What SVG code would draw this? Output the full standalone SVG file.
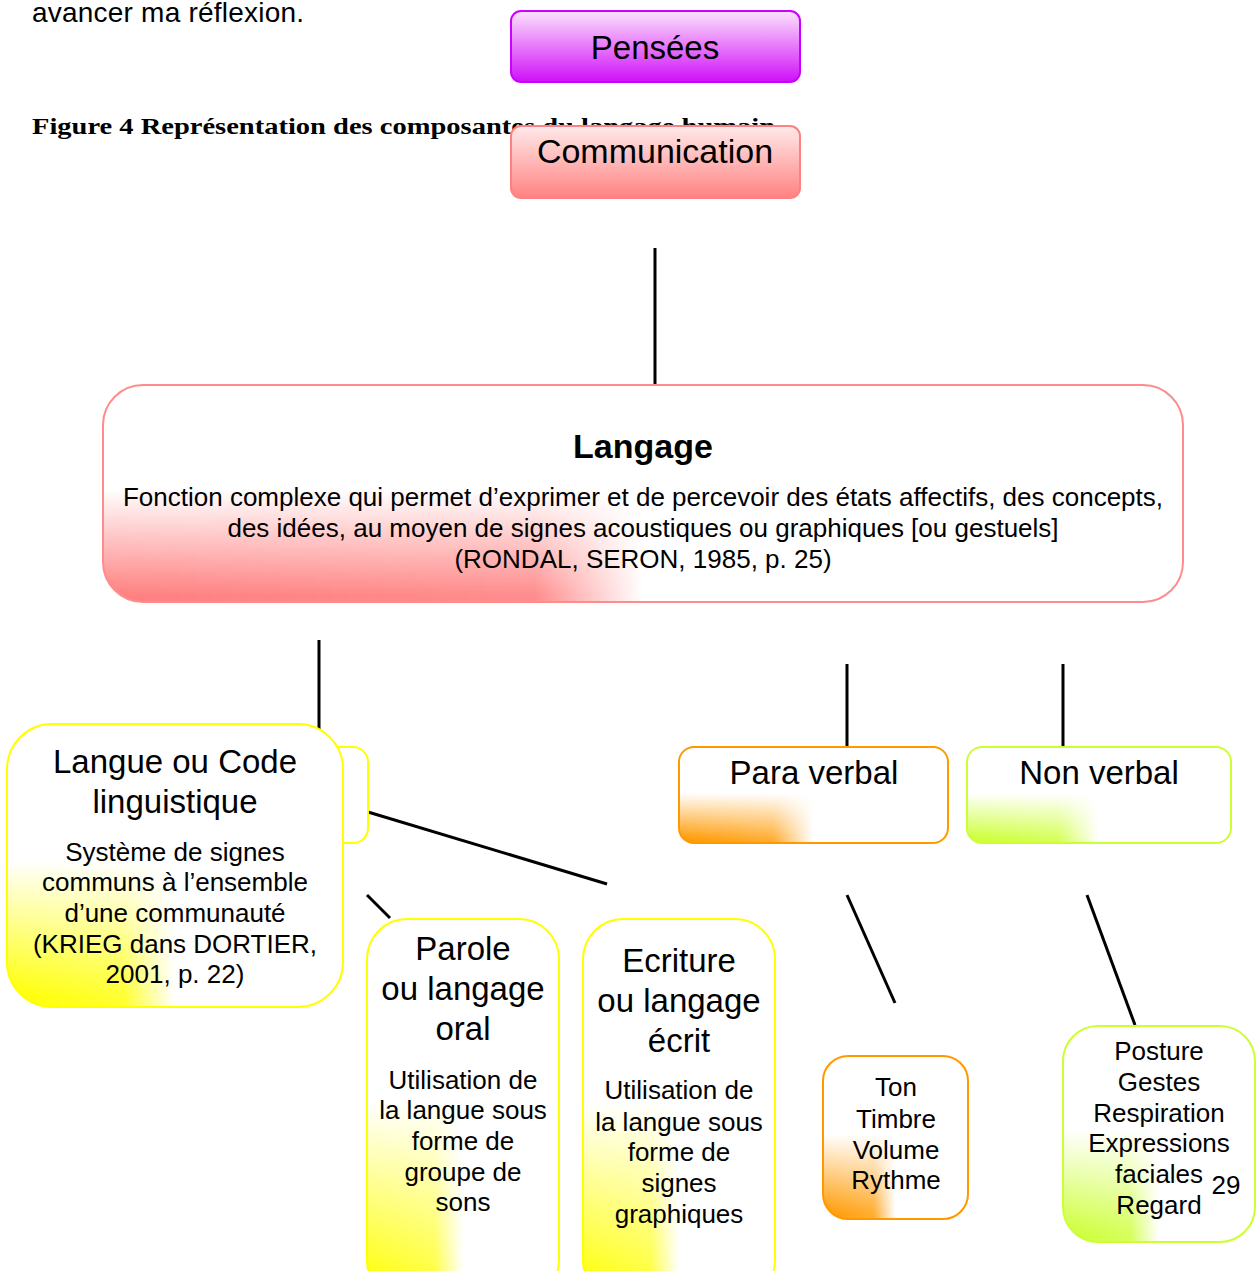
<svg xmlns="http://www.w3.org/2000/svg" width="1257" height="1271" viewBox="0 0 1257 1271">
<style>
text{font-family:"Liberation Sans",Arial,sans-serif;fill:#000;text-anchor:middle}
.t{font-size:33px}
.b{font-size:26px}
.bg{fill:#fff}
.y{fill:none;stroke:#ffff00;stroke-width:2}
.o{fill:none;stroke:#ff9900;stroke-width:2}
.l{fill:none;stroke:#ccff33;stroke-width:2}
.p{fill:none;stroke:#ff8c8c;stroke-width:2}
.c line{stroke:#000;stroke-width:3}
</style>
<defs>
<linearGradient id="gv" x1="0" y1="0" x2="0" y2="1"><stop offset="0" stop-color="#000"/><stop offset="0.48" stop-color="#000"/><stop offset="0.97" stop-color="#fff"/></linearGradient>
<mask id="mv" maskContentUnits="objectBoundingBox"><rect width="1" height="1" fill="url(#gv)"/></mask>
<linearGradient id="hy" x1="0" y1="0" x2="1" y2="0"><stop offset="0" stop-color="#ffff00"/><stop offset="0.35" stop-color="#ffff00" stop-opacity="0.8"/><stop offset="0.5" stop-color="#ffff00" stop-opacity="0"/></linearGradient>
<linearGradient id="ho" x1="0" y1="0" x2="1" y2="0"><stop offset="0" stop-color="#ff9900"/><stop offset="0.35" stop-color="#ff9900" stop-opacity="0.8"/><stop offset="0.5" stop-color="#ff9900" stop-opacity="0"/></linearGradient>
<linearGradient id="hl" x1="0" y1="0" x2="1" y2="0"><stop offset="0" stop-color="#ccff33"/><stop offset="0.35" stop-color="#ccff33" stop-opacity="0.8"/><stop offset="0.5" stop-color="#ccff33" stop-opacity="0"/></linearGradient>
<linearGradient id="hp" x1="0" y1="0" x2="1" y2="0"><stop offset="0" stop-color="#ff8080"/><stop offset="0.4" stop-color="#ff8080" stop-opacity="0.9"/><stop offset="0.5" stop-color="#ff8080" stop-opacity="0"/></linearGradient>
<linearGradient id="gpen" x1="0" y1="0" x2="0" y2="1"><stop offset="0" stop-color="#fce2fd"/><stop offset="1" stop-color="#d010f8"/></linearGradient>
<linearGradient id="gcom" x1="0" y1="0" x2="0" y2="1"><stop offset="0" stop-color="#ffeaea"/><stop offset="1" stop-color="#ff8282"/></linearGradient>
</defs>
<rect width="1257" height="1271" fill="#fff"/>
<text x="32" y="22" style="text-anchor:start;font-size:28px" textLength="272">avancer ma réflexion.</text>
<text x="32" y="134" style="text-anchor:start;font-family:'Liberation Serif','Times New Roman',serif;font-weight:bold;font-size:24px" textLength="743" lengthAdjust="spacingAndGlyphs">Figure 4 Représentation des composantes du langage humain</text>

<g class="c" id="connectors">
<line x1="655" y1="248" x2="655" y2="385"/>
<line x1="319" y1="640" x2="319" y2="730"/>
<line x1="847" y1="664" x2="847" y2="747"/>
<line x1="1063" y1="664" x2="1063" y2="747"/>
<line x1="368" y1="812" x2="607" y2="884"/>
<line x1="367" y1="895" x2="390" y2="918"/>
<line x1="847" y1="895" x2="895" y2="1003"/>
<line x1="1087" y1="895" x2="1135" y2="1025"/>
</g>

<g id="pensees">
<rect x="511" y="11" width="289" height="71" rx="10" fill="url(#gpen)" stroke="#cc00ff" stroke-width="2"/>
<text x="655" y="59" style="font-size:33px">Pensées</text>
</g>

<g id="communication">
<rect x="511" y="126" width="289" height="72" rx="10" fill="url(#gcom)" stroke="#ff8080" stroke-width="2"/>
<text x="655" y="163" style="font-size:34px">Communication</text>
</g>

<g id="langage">
<rect class="bg" x="103" y="385" width="1080" height="217" rx="40"/>
<rect x="103" y="385" width="1080" height="217" rx="40" fill="url(#hp)" mask="url(#mv)"/>
<rect class="p" x="103" y="385" width="1080" height="217" rx="40"/>
<text x="643" y="458" style="font-size:34px;font-weight:bold">Langage</text>
<text class="b" x="643" y="506">Fonction complexe qui permet d’exprimer et de percevoir des états affectifs, des concepts,</text>
<text class="b" x="643" y="537">des idées, au moyen de signes acoustiques ou graphiques [ou gestuels]</text>
<text class="b" x="643" y="568">(RONDAL, SERON, 1985, p. 25)</text>
</g>

<g id="langue-back">
<rect x="220" y="747" width="148" height="96" rx="15" fill="#fff" stroke="#ffff00" stroke-width="2"/>
</g>

<g id="langue">
<rect class="bg" x="7" y="724" width="336" height="283" rx="45"/>
<rect x="7" y="724" width="336" height="283" rx="45" fill="url(#hy)" mask="url(#mv)"/>
<rect class="y" x="7" y="724" width="336" height="283" rx="45"/>
<text class="t" x="175" y="773">Langue ou Code</text>
<text class="t" x="175" y="813">linguistique</text>
<text class="b" x="175" y="861">Système de signes</text>
<text class="b" x="175" y="891">communs à l’ensemble</text>
<text class="b" x="175" y="922">d’une communauté</text>
<text class="b" x="175" y="953">(KRIEG dans DORTIER,</text>
<text class="b" x="175" y="983">2001, p. 22)</text>
</g>

<g id="parole">
<rect class="bg" x="367" y="919" width="192" height="381" rx="40"/>
<rect x="367" y="919" width="192" height="381" rx="40" fill="url(#hy)" mask="url(#mv)"/>
<rect class="y" x="367" y="919" width="192" height="381" rx="40"/>
<text class="t" x="463" y="960">Parole</text>
<text class="t" x="463" y="1000">ou langage</text>
<text class="t" x="463" y="1040">oral</text>
<text class="b" x="463" y="1089">Utilisation de</text>
<text class="b" x="463" y="1119">la langue sous</text>
<text class="b" x="463" y="1150">forme de</text>
<text class="b" x="463" y="1181">groupe de</text>
<text class="b" x="463" y="1211">sons</text>
</g>

<g id="ecriture">
<rect class="bg" x="583" y="919" width="192" height="381" rx="40"/>
<rect x="583" y="919" width="192" height="381" rx="40" fill="url(#hy)" mask="url(#mv)"/>
<rect class="y" x="583" y="919" width="192" height="381" rx="40"/>
<text class="t" x="679" y="972">Ecriture</text>
<text class="t" x="679" y="1012">ou langage</text>
<text class="t" x="679" y="1052">écrit</text>
<text class="b" x="679" y="1099">Utilisation de</text>
<text class="b" x="679" y="1131">la langue sous</text>
<text class="b" x="679" y="1161">forme de</text>
<text class="b" x="679" y="1192">signes</text>
<text class="b" x="679" y="1223">graphiques</text>
</g>

<g id="para-verbal">
<rect class="bg" x="679" y="747" width="269" height="96" rx="15"/>
<rect x="679" y="747" width="269" height="96" rx="15" fill="url(#ho)" mask="url(#mv)"/>
<rect class="o" x="679" y="747" width="269" height="96" rx="15"/>
<text class="t" x="814" y="784">Para verbal</text>
</g>

<g id="non-verbal">
<rect class="bg" x="967" y="747" width="264" height="96" rx="15"/>
<rect x="967" y="747" width="264" height="96" rx="15" fill="url(#hl)" mask="url(#mv)"/>
<rect class="l" x="967" y="747" width="264" height="96" rx="15"/>
<text class="t" x="1099" y="784">Non verbal</text>
</g>

<g id="ton">
<rect class="bg" x="823" y="1056" width="145" height="163" rx="25"/>
<rect x="823" y="1056" width="145" height="163" rx="25" fill="url(#ho)" mask="url(#mv)"/>
<rect class="o" x="823" y="1056" width="145" height="163" rx="25"/>
<text class="b" x="896" y="1096">Ton</text>
<text class="b" x="896" y="1128">Timbre</text>
<text class="b" x="896" y="1159">Volume</text>
<text class="b" x="896" y="1189">Rythme</text>
</g>

<g id="posture">
<rect class="bg" x="1063" y="1026" width="192" height="216" rx="35"/>
<rect x="1063" y="1026" width="192" height="216" rx="35" fill="url(#hl)" mask="url(#mv)"/>
<rect class="l" x="1063" y="1026" width="192" height="216" rx="35"/>
<text class="b" x="1159" y="1060">Posture</text>
<text class="b" x="1159" y="1091">Gestes</text>
<text class="b" x="1159" y="1122">Respiration</text>
<text class="b" x="1159" y="1152">Expressions</text>
<text class="b" x="1159" y="1183">faciales</text>
<text class="b" x="1159" y="1214">Regard</text>
</g>
<text class="b" x="1226" y="1194">29</text>
</svg>
